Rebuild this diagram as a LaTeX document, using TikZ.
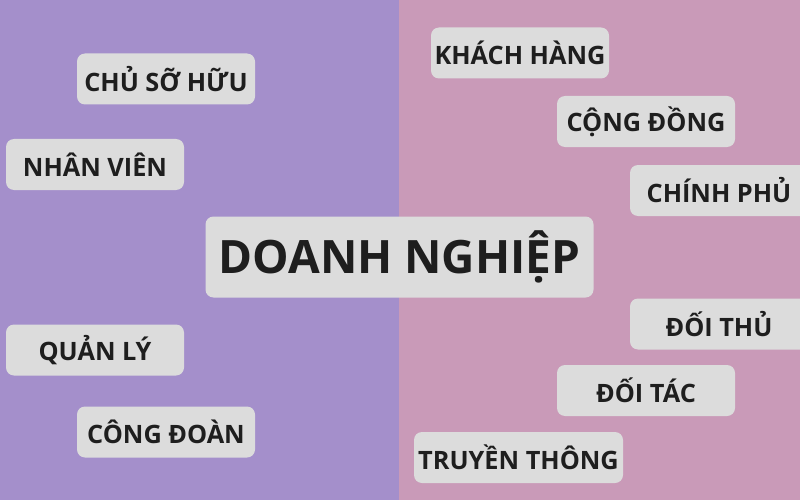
\documentclass[tikz,border=0pt]{standalone}
\usepackage{fontspec}
\setmainfont{Open Sans}[BoldFont={* Bold}]
\definecolor{leftbg}{HTML}{A48FCB}
\definecolor{rightbg}{HTML}{C99AB8}
\definecolor{boxfill}{HTML}{DCDCDC}
\definecolor{txt}{HTML}{1E1E1E}
\begin{document}
\begin{tikzpicture}[x=1pt,y=-1pt,
  tag/.style={fill=boxfill, rounded corners=8pt, inner sep=0pt, text=txt,
    minimum width=178pt, minimum height=51pt, font=\bfseries\fontsize{25.3}{30}\selectfont},
  hub/.style={tag, minimum width=388pt, minimum height=81pt, font=\bfseries\fontsize{46}{54}\selectfont}]
\useasboundingbox (0,0) rectangle (800,500);
\fill[leftbg] (0,0) rectangle (399,500);
\fill[rightbg] (399,0) rectangle (800,500);
\node[hub] (doanh) at (399.5,257) {DOANH NGHIỆP};
\node[tag] (chu) at (166,79) {CHỦ SỠ HỮU};
\node[tag] (nhan) at (95,164.5) {NHÂN VIÊN};
\node[tag] (quan) at (95,350) {QUẢN LÝ};
\node[tag] (cong) at (166,432) {CÔNG ĐOÀN};
\node[tag] (khach) at (520,53) {KHÁCH HÀNG};
\node[tag] (congdong) at (646,121.5) {CỘNG ĐỒNG};
\node[tag] (chinh) at (719,190.5) {CHÍNH PHỦ};
\node[tag] (doithu) at (719,324) {ĐỐI THỦ};
\node[tag] (doitac) at (646,390.5) {ĐỐI TÁC};
\node[tag, minimum width=209pt] (truyen) at (518.5,457.5) {TRUYỀN THÔNG};
\end{tikzpicture}
\end{document}
